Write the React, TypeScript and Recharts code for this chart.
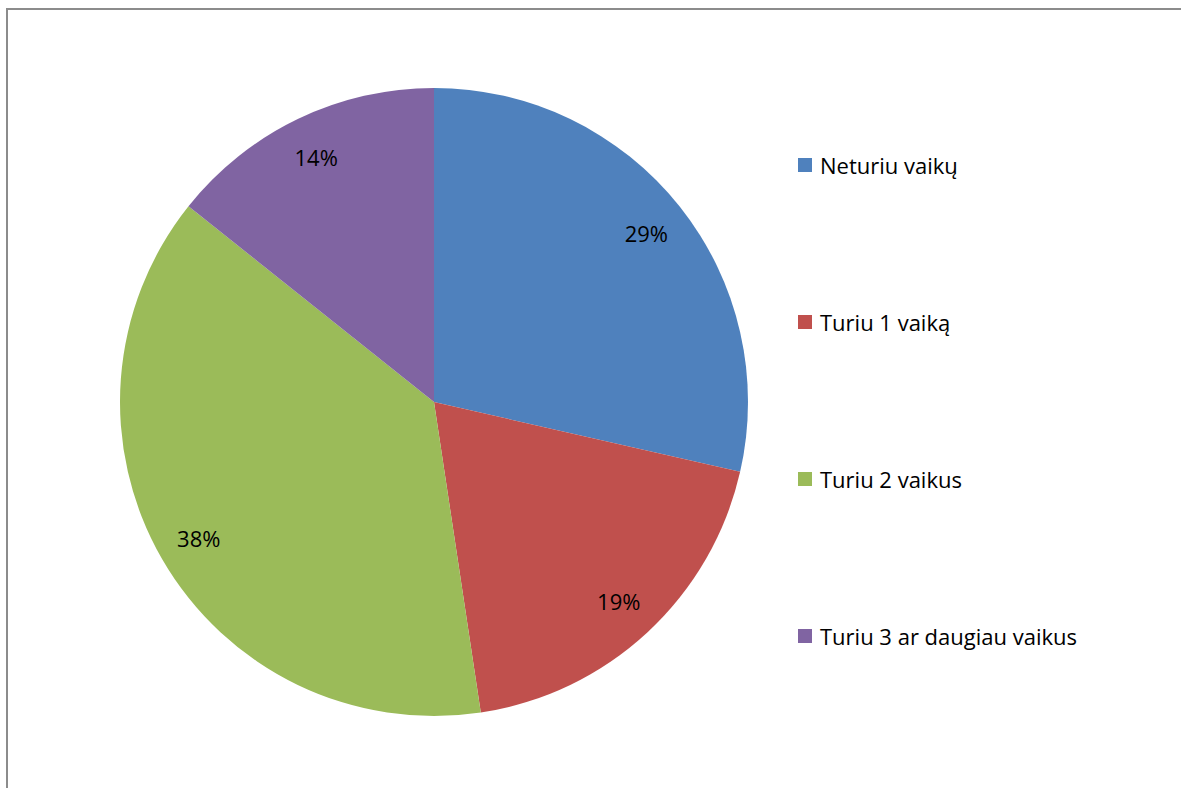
import React from 'react';
import { PieChart, Pie, Cell, Legend } from 'recharts';

// answers: how many children (counts, 21 respondents)
const categories = ['Neturiu vaikų', 'Turiu 1 vaiką', 'Turiu 2 vaikus', 'Turiu 3 ar daugiau vaikus'];
const counts = [6, 4, 8, 3];
const colors = ['#4F81BD', '#C0504D', '#9BBB59', '#8064A2'];

const data = categories.map((name, i) => ({ name, value: counts[i] }));

const FONT = '"Open Sans", "Noto Sans", sans-serif';
const RAD = Math.PI / 180;

const renderLabel = (props: any) => {
  const { cx, cy, midAngle, outerRadius, percent } = props;
  const r = outerRadius * 0.865;
  const x = cx + r * Math.cos(-midAngle * RAD);
  const y = cy + r * Math.sin(-midAngle * RAD);
  return (
    <text x={x} y={y} fill="#000" fontSize={22} fontFamily={FONT} textAnchor="middle" dominantBaseline="central">
      {`${Math.round(percent * 100)}%`}
    </text>
  );
};

const renderLegend = (props: any) => {
  const { payload } = props;
  return (
    <div style={{ fontFamily: FONT, fontSize: 22, color: '#000' }}>
      {payload.map((p: any, i: number) => (
        <div key={i} style={{ display: 'flex', alignItems: 'center', height: 30, marginBottom: i < payload.length - 1 ? 127 : 0 }}>
          <span style={{ display: 'inline-block', width: 14, height: 14, background: p.color, marginRight: 8 }} />
          <span>{p.value}</span>
        </div>
      ))}
    </div>
  );
};

export default function App() {
  return (
    <div style={{ position: 'absolute', left: 0, top: 0, width: 1181, height: 788, overflow: 'hidden', background: '#fff' }}>
      <div style={{ position: 'absolute', left: 6, top: 8, width: 1200, height: 800, border: '2px solid #8c8c8c', boxSizing: 'border-box' }} />
      <PieChart width={1181} height={788} margin={{ top: 0, right: 0, bottom: 0, left: 0 }} style={{ position: 'absolute', left: 0, top: 0 }}>
        <Pie
          data={data}
          dataKey="value"
          nameKey="name"
          cx={434}
          cy={402}
          outerRadius={314}
          startAngle={90}
          endAngle={-270}
          stroke="none"
          label={renderLabel}
          labelLine={false}
          isAnimationActive={false}
        >
          {data.map((d, i) => (
            <Cell key={d.name} fill={colors[i]} />
          ))}
        </Pie>
        <Legend
          content={renderLegend}
          layout="vertical"
          wrapperStyle={{ left: 798, top: 150, width: 370 }}
        />
      </PieChart>
    </div>
  );
}
